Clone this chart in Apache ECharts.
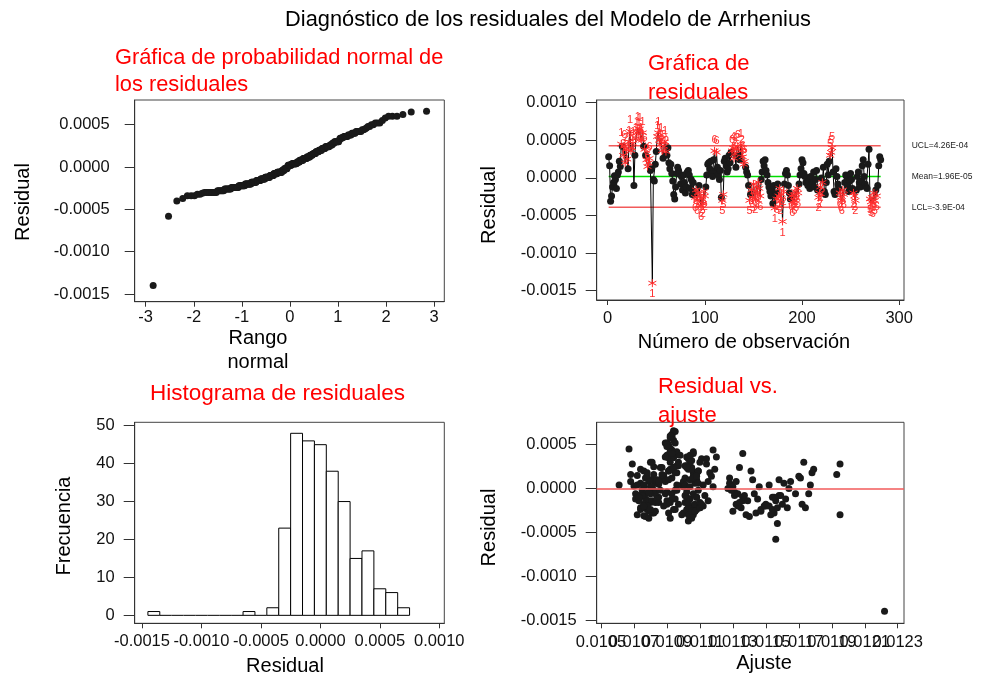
<!DOCTYPE html>
<html><head><meta charset="utf-8">
<script src="https://cdn.jsdelivr.net/npm/echarts@6/dist/echarts.min.js"></script>
<style>html,body{margin:0;padding:0;background:#fff}#chart{width:996px;height:675px}</style>
</head><body><div id="chart"></div>
<script>
// ---------- DATA ----------
const residuals = [
 28e-5,16e-5,-31e-5,-24e-5,-12e-5,-6e-5,3e-5,-2e-5,-14e-5,4e-5,
 8e-5,22e-5,15e-5,45e-5,42e-5,30e-5,42e-5,20e-5,38e-5,25e-5,
 12e-5,48e-5,62e-5,36e-5,40e-5,46e-5,-10e-5,30e-5,52e-5,60e-5,
 66e-5,58e-5,65e-5,52e-5,50e-5,60e-5,42e-5,38e-5,30e-5,24e-5,
 15e-5,20e-5,26e-5,10e-5,12e-5,-140e-5,-2e-5,-4e-5,18e-5,35e-5,
 55e-5,60e-5,50e-5,44e-5,52e-5,36e-5,26e-5,42e-5,48e-5,35e-5,
 30e-5,40e-5,20e-5,12e-5,18e-5,6e-5,-4e-5,-22e-5,-28e-5,-12e-5,
 6e-5,14e-5,10e-5,5e-5,-8e-5,2e-5,-16e-5,4e-5,-6e-5,-20e-5,
 -12e-5,8e-5,10e-5,4e-5,-14e-5,-2e-5,-22e-5,-6e-5,-18e-5,-26e-5,
 -16e-5,-30e-5,-20e-5,-10e-5,-24e-5,-37e-5,-28e-5,-34e-5,-18e-5,-24e-5,
 -12e-5,4e-5,18e-5,20e-5,12e-5,22e-5,6e-5,2e-5,24e-5,36e-5,
 10e-5,34e-5,14e-5,4e-5,-2e-5,10e-5,-26e-5,-30e-5,-22e-5,22e-5,
 26e-5,16e-5,8e-5,12e-5,30e-5,20e-5,34e-5,36e-5,40e-5,26e-5,
 32e-5,14e-5,38e-5,42e-5,30e-5,24e-5,44e-5,36e-5,28e-5,18e-5,
 22e-5,14e-5,8e-5,4e-5,-10e-5,-30e-5,-22e-5,-16e-5,-26e-5,-8e-5,
 -18e-5,-28e-5,-12e-5,-20e-5,-6e-5,-14e-5,-24e-5,-2e-5,8e-5,22e-5,
 16e-5,24e-5,10e-5,4e-5,-6e-5,-12e-5,-18e-5,-24e-5,-16e-5,-34e-5,
 -10e-5,-40e-5,-20e-5,-28e-5,-8e-5,-24e-5,-14e-5,-30e-5,-22e-5,-58e-5,
 -18e-5,-8e-5,6e-5,10e-5,4e-5,-10e-5,-20e-5,-28e-5,-24e-5,-32e-5,
 -22e-5,-30e-5,-18e-5,-26e-5,-14e-5,-20e-5,-8e-5,4e-5,12e-5,24e-5,
 20e-5,6e-5,2e-5,-6e-5,0,-10e-5,-4e-5,-14e-5,2e-5,-6e-5,
 -8e-5,8e-5,-12e-5,-2e-5,10e-5,-16e-5,-26e-5,-20e-5,-12e-5,0,
 -6e-5,14e-5,-18e-5,-22e-5,-6e-5,18e-5,4e-5,22e-5,30e-5,34e-5,
 40e-5,8e-5,-18e-5,-22e-5,12e-5,2e-5,-8e-5,-14e-5,-20e-5,-26e-5,
 -30e-5,-16e-5,-22e-5,-6e-5,4e-5,2e-5,-10e-5,-18e-5,-4e-5,6e-5,
 -2e-5,-14e-5,-20e-5,-24e-5,-30e-5,-16e-5,2e-5,8e-5,-6e-5,-12e-5,
 -4e-5,16e-5,24e-5,2e-5,-8e-5,-12e-5,-14e-5,18e-5,38e-5,-28e-5,
 -32e-5,-26e-5,-34e-5,-20e-5,-30e-5,-16e-5,-24e-5,-10e-5,16e-5,28e-5,24e-5
];
const fitted = [
 0.01069,0.01068,0.01076,0.01078,0.01073,0.01071,0.01070,0.01075,0.01079,0.01061,
 0.01068,0.01074,0.01072,0.01067,0.01093,0.01080,0.01092,0.01076,0.01095,0.01082,
 0.01077,0.01091,0.01093,0.01090,0.01094,0.01092,0.01085,0.01081,0.01090,0.01093,
 0.01094,0.01092,0.01095,0.01089,0.01091,0.01093,0.01096,0.01090,0.01092,0.01094,
 0.01088,0.01091,0.01097,0.01089,0.01093,0.01222,0.01095,0.01090,0.01096,0.01091,
 0.01094,0.01092,0.01090,0.01093,0.01095,0.01089,0.01096,0.01092,0.01090,0.01094,
 0.01097,0.01093,0.01091,0.01087,0.01095,0.01083,0.01079,0.01075,0.01082,0.01077,
 0.01074,0.01078,0.01081,0.01085,0.01073,0.01076,0.01080,0.01072,0.01083,0.01077,
 0.01071,0.01079,0.01084,0.01076,0.01078,0.01082,0.01074,0.01080,0.01076,0.01079,
 0.01101,0.01104,0.01106,0.01102,0.01108,0.01103,0.01100,0.01105,0.01107,0.01102,
 0.01104,0.01099,0.01106,0.01109,0.01101,0.01103,0.01107,0.01100,0.01105,0.01102,
 0.01108,0.01103,0.01106,0.01101,0.01109,0.01104,0.01107,0.01103,0.01110,0.01105,
 0.01102,0.01108,0.01100,0.01106,0.01104,0.01109,0.01111,0.01103,0.01106,0.01101,
 0.01105,0.01108,0.01104,0.01106,0.01110,0.01102,0.01118,0.01120,0.01114,0.01116,
 0.01119,0.01117,0.01115,0.01112,0.01108,0.01106,0.01103,0.01110,0.01105,0.01101,
 0.01097,0.01091,0.01095,0.01088,0.01093,0.01090,0.01094,0.01096,0.01089,0.01092,
 0.01087,0.01094,0.01091,0.01096,0.01089,0.01093,0.01090,0.01095,0.01092,0.01092,
 0.01154,0.01157,0.01152,0.01155,0.01158,0.01154,0.01156,0.01153,0.01157,0.01156,
 0.01150,0.01159,0.01161,0.01158,0.01152,0.01155,0.01149,0.01144,0.01147,0.01140,
 0.01135,0.01138,0.01132,0.01130,0.01136,0.01133,0.01131,0.01129,0.01128,0.01134,
 0.01141,0.01128,0.01130,0.01133,0.01127,0.01136,0.01131,0.01139,0.01146,0.01143,
 0.01137,0.01132,0.01145,0.01129,0.01142,0.01134,0.01147,0.01150,0.01162,0.01164,
 0.01168,0.01170,0.01172,0.01174,0.01176,0.01178,0.01177,0.01179,0.01173,0.01114,
 0.01136,0.01165,0.01160,0.01163,0.01171,0.01118,0.01113,0.01115,0.01112,0.01107,
 0.01099,0.01103,0.01110,0.01106,0.01101,0.01104,0.01108,0.01111,0.01102,0.01109,
 0.01086,0.01081,0.01078,0.01074,0.01072,0.01083,0.01080,0.01085,0.01077,0.01084,
 0.01079,0.01082,0.01086,0.01081,0.01075,0.01084,0.01073,0.01078,0.01098,0.01081,
 0.01077,0.01083,0.01079,0.01076,0.01195,0.01085,0.01080,0.01073,0.01193,0.01195,0.01087
];
const flagObs = [14,16,17,18,19,20,22,23,24,25,26,29,30,31,32,33,34,35,36,38,40,41,42,43,46,51,52,53,54,55,56,58,59,60,
 90,91,92,93,95,96,97,98,99,100,110,112,118,119,128,129,130,131,133,134,137,138,139,140,141,
 146,148,149,150,151,152,153,154,155,156,157,172,174,176,177,178,179,180,181,
 189,190,191,192,193,194,195,196,217,218,219,221,229,230,231,239,240,241,242,243,253,254,255,
 270,271,272,273,274,275,277];
const flagTest = [1,2,6,6,2,2,1,1,2,6,1,1,1,1,1,1,1,1,1,6,2,6,2,6,1,1,1,1,1,1,2,6,1,2,
 6,6,6,2,6,6,2,2,6,2,6,6,5,5,6,4,6,2,2,6,1,2,6,2,6,
 5,6,5,5,6,2,6,2,6,2,6,1,6,2,6,2,6,1,2,
 6,6,6,6,2,6,2,6,2,2,2,2,5,5,5,6,6,6,6,6,2,2,2,
 5,5,5,6,6,5,6];
const controlValues = [4.26e-4, 1.96e-5, -3.9e-4];
const controlLabels = ['UCL=4.26E-04', 'Mean=1.96E-05', 'LCL=-3.9E-04'];
const binCenters = [-0.0014,-0.0013,-0.0012,-0.0011,-0.0010,-0.0009,-0.0008,-0.0007,-0.0006,-0.0005,-0.0004,
 -0.0003,-0.0002,-0.0001,0,0.0001,0.0002,0.0003,0.0004,0.0005,0.0006,0.0007];
const binCounts = [1,0,0,0,0,0,0,0,1,0,2,23,48,46,45,38,30,15,17,7,6,2];
const binWidth = 0.0001;
const ticksNormX = [-3,-2,-1,0,1,2,3];
const ticksRes = [-0.0015,-0.0010,-0.0005,0,0.0005];
const ticksResRun = [-0.0015,-0.0010,-0.0005,0,0.0005,0.0010];
const ticksObs = [0,100,200,300];
const ticksHistX = [-0.0015,-0.0010,-0.0005,0,0.0005,0.0010];
const ticksFreq = [0,10,20,30,40,50];
const ticksFit = [0.0105,0.0107,0.0109,0.0111,0.0113,0.0115,0.0117,0.0119,0.0121,0.0123];

// ---------- helpers ----------
const FONT = '"Liberation Sans", Arial, sans-serif';
function fmt4(v){ return (Math.abs(v) < 1e-12 ? 0 : v).toFixed(4); }
function fmt0(v){ return String(Math.round(v)); }
function normInv(p){
 const a=[-3.969683028665376e+01,2.209460984245205e+02,-2.759285104469687e+02,1.383577518672690e+02,-3.066479806614716e+01,2.506628277459239e+00];
 const b=[-5.447609879822406e+01,1.615858368580409e+02,-1.556989798598866e+02,6.680131188771972e+01,-1.328068155288572e+01];
 const c=[-7.784894002430293e-03,-3.223964580411365e-01,-2.400758277161838e+00,-2.549732539343734e+00,4.374664141464968e+00,2.938163982698783e+00];
 const d=[7.784695709041462e-03,3.224671290700398e-01,2.445134137142996e+00,3.754408661907416e+00];
 const pl=0.02425, ph=1-pl; let q, r;
 if(p<pl){q=Math.sqrt(-2*Math.log(p));return (((((c[0]*q+c[1])*q+c[2])*q+c[3])*q+c[4])*q+c[5])/((((d[0]*q+d[1])*q+d[2])*q+d[3])*q+1);}
 if(p<=ph){q=p-0.5;r=q*q;return (((((a[0]*r+a[1])*r+a[2])*r+a[3])*r+a[4])*r+a[5])*q/(((((b[0]*r+b[1])*r+b[2])*r+b[3])*r+b[4])*r+1);}
 q=Math.sqrt(-2*Math.log(1-p));return -(((((c[0]*q+c[1])*q+c[2])*q+c[3])*q+c[4])*q+c[5])/((((d[0]*q+d[1])*q+d[2])*q+d[3])*q+1);
}
const n = residuals.length;
const sorted = residuals.slice().sort((x,y)=>x-y);
const normPts = sorted.map((v,i)=>[normInv((i+1-0.375)/(n+0.25)), v]);
const flagSet = {};
flagObs.forEach((o,k)=>{ flagSet[o] = flagTest[k]; });
const runLine = residuals.map((v,i)=>[i+1, v]);
const runBlack = runLine.filter(p=>!flagSet[p[0]]);
const runRed = flagObs.map((o,k)=>({value:[o, residuals[o-1]], test: flagTest[k],
  label:{position: residuals[o-1] > controlValues[1] ? 'top' : 'bottom'}}));
// split the crowded fit ticks between two label rows so none gets dropped
const fitTicksA = ticksFit.filter((v,i)=>i%2===0);
const fitTicksB = ticksFit.filter((v,i)=>i%2===1);

function makeAxis(gi, min, max, ticks, fmt, tickLen, margin, labelTicks){
  return {type:'value', gridIndex:gi, min:min, max:max,
    axisLine:{show:true, onZero:false, lineStyle:{color:'#333', width:1}},
    axisTick:{show:true, length:tickLen, customValues:ticks, lineStyle:{color:'#333', width:1}},
    axisLabel:{customValues:labelTicks || ticks, formatter:fmt, fontSize:16.5, fontFamily:FONT, color:'#111', margin:margin,
      showMinLabel:true, showMaxLabel:true, hideOverlap:false},
    splitLine:{show:false}};
}
const fitAxisB = makeAxis(3,0.010474,0.012338,fitTicksB,fmt4,5,11,fitTicksB);
fitAxisB.axisLine = {show:false, onZero:false};
fitAxisB.axisTick = {show:false};
fitAxisB.position = 'bottom';

const gridBase = {show:true, borderColor:'#444', borderWidth:1, backgroundColor:'transparent', containLabel:false};
function txt(x,y,text,size,color,rot,align){
  return {type:'text', x:x, y:y, rotation: rot||0,
    style:{text:text, fontSize:size, fontFamily:FONT, fill:color, align: align||'center', verticalAlign:'middle'}};
}
const asterisk = 'path://M5,0L5,10M0.7,2.5L9.3,7.5M0.7,7.5L9.3,2.5';
const dotStyle = {color:'#1a1a1a', opacity:1};

const ctrlSeries = controlValues.map((v,k)=>({
  type:'line', xAxisIndex:1, yAxisIndex:1, data:[[1,v],[n,v]], symbol:'none', silent:true, z:1,
  lineStyle:{color: k===1 ? '#00dd00' : '#f25a5a', width:1.5},
  endLabel:{show:true, formatter: controlLabels[k], distance:31, fontSize:8.5, fontFamily:FONT, color:'#222'}
}));

const option = {
  animation:false,
  backgroundColor:'#fff',
  grid:[
    Object.assign({left:134.7, top:100, width:309.6, height:201.7}, gridBase),
    Object.assign({left:596.7, top:100, width:307.3, height:200}, gridBase),
    Object.assign({left:134.7, top:422.3, width:309.6, height:201}, gridBase),
    Object.assign({left:596.7, top:422.3, width:307.3, height:201}, gridBase)
  ],
  xAxis:[
    makeAxis(0,-3.229,3.214,ticksNormX,fmt0,5,7),
    makeAxis(1,-11.3,305,ticksObs,fmt0,5,10),
    makeAxis(2,-0.001561,0.001042,ticksHistX,fmt4,5,10),
    makeAxis(3,0.010474,0.012338,ticksFit,fmt4,5,11,fitTicksA),
    fitAxisB
  ],
  yAxis:[
    makeAxis(0,-0.00159,0.000792,ticksRes,fmt4,10,25),
    makeAxis(1,-0.001624,0.001036,ticksResRun,fmt4,11,20),
    makeAxis(2,-2.1,50.9,ticksFreq,fmt0,11,20),
    makeAxis(3,-0.001538,0.000756,ticksRes,fmt4,11,20)
  ],
  series:[
    {type:'scatter', xAxisIndex:0, yAxisIndex:0, data:normPts, symbolSize:7, itemStyle:dotStyle},
    {type:'line', xAxisIndex:1, yAxisIndex:1, data:runLine, symbol:'none', showSymbol:false, lineStyle:{color:'#000', width:1}, z:2},
    ...ctrlSeries,
    {type:'scatter', xAxisIndex:1, yAxisIndex:1, data:runBlack, symbolSize:7, itemStyle:dotStyle, z:3},
    {type:'scatter', xAxisIndex:1, yAxisIndex:1, data:runRed, symbol:asterisk, symbolSize:8, z:4,
      itemStyle:{color:'rgba(0,0,0,0)', borderColor:'#ff2a2a', borderWidth:1, opacity:1},
      label:{show:true, formatter:p=>String(p.data.test), color:'#ff3030', fontSize:11, fontFamily:FONT, distance:1}},
    {type:'custom', xAxisIndex:2, yAxisIndex:2, data:binCenters.map((c,i)=>[c, binCounts[i]]), encode:{x:0,y:1},
      renderItem:function(params, api){
        const c = api.value(0), h = api.value(1);
        const p0 = api.coord([c - binWidth/2, h]);
        const p1 = api.coord([c + binWidth/2, 0]);
        if (h === 0) {
          return {type:'line', shape:{x1:p0[0], y1:p1[1], x2:p1[0], y2:p1[1]}, style:{stroke:'#000', lineWidth:1}};
        }
        return {type:'rect', shape:{x:p0[0], y:p0[1], width:p1[0]-p0[0], height:p1[1]-p0[1]},
          style:{fill:'#fff', stroke:'#000', lineWidth:1}};
      }},
    {type:'scatter', xAxisIndex:3, yAxisIndex:3, data:fitted.map((f,i)=>[f, residuals[i]]), symbolSize:7,
      itemStyle:dotStyle,
      markLine:{silent:true, symbol:'none', data:[{yAxis:0}], label:{show:false},
        lineStyle:{color:'#f25a5a', width:1.5, type:'solid'}}}
  ],
  graphic:[
    txt(548,20,'Diagnóstico de los residuales del Modelo de Arrhenius',21.8,'#000'),
    txt(115,57.7,'Gráfica de probabilidad normal de',21.8,'#ff0000',0,'left'),
    txt(115,84.7,'los residuales',21.8,'#ff0000',0,'left'),
    txt(648,64,'Gráfica de',22,'#ff0000',0,'left'),
    txt(648,93.3,'residuales',22,'#ff0000',0,'left'),
    txt(150,394,'Histograma de residuales',22.5,'#ff0000',0,'left'),
    txt(658,386.7,'Residual vs.',22,'#ff0000',0,'left'),
    txt(658,416.3,'ajuste',22,'#ff0000',0,'left'),
    txt(23,202,'Residual',20,'#000',Math.PI/2),
    txt(258,338,'Rango',20,'#000'),
    txt(258,362,'normal',20,'#000'),
    txt(489,205,'Residual',20,'#000',Math.PI/2),
    txt(744,342,'Número de observación',20,'#000'),
    txt(64,526,'Frecuencia',20,'#000',Math.PI/2),
    txt(285,666,'Residual',20,'#000'),
    txt(489,527.5,'Residual',20,'#000',Math.PI/2),
    txt(764,663,'Ajuste',20,'#000')
  ]
};
const chart = echarts.init(document.getElementById('chart'), null, {renderer:'canvas'});
chart.setOption(option);
</script></body></html>
